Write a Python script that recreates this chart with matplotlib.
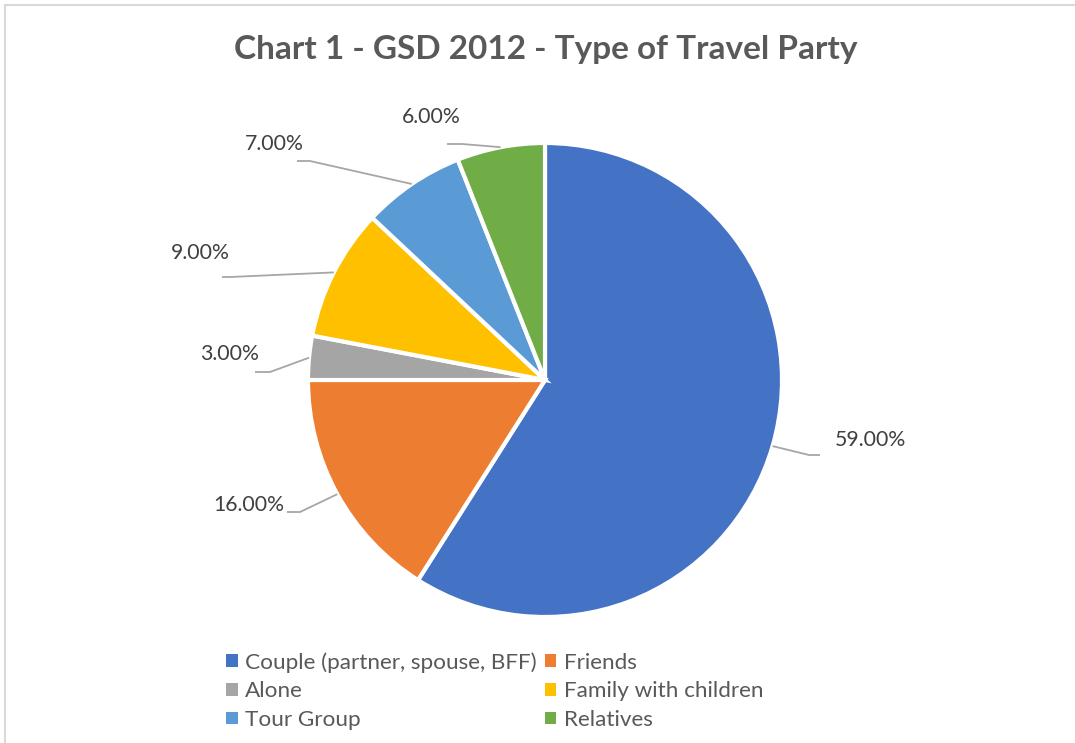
import numpy as np
import matplotlib.pyplot as plt
from matplotlib.patches import Patch

categories = ["Couple (partner, spouse, BFF)", "Friends", "Alone",
              "Family with children", "Tour Group", "Relatives"]
shares = [59.0, 16.0, 3.0, 9.0, 7.0, 6.0]
colors = ["#4472C4", "#ED7D31", "#A5A5A5", "#FFC000", "#5B9BD5", "#70AD47"]

W, H = 1075, 743
fig = plt.figure(figsize=(W / 100, H / 100), dpi=100)
ax = fig.add_axes([0, 0, 1, 1])

font = "Lato"
cx, cy, r = 545, H - 380, 237

wedges, _ = ax.pie(shares, colors=colors, startangle=90, counterclock=False,
                   center=(cx, cy), radius=r, frame=True,
                   wedgeprops=dict(edgecolor="white", linewidth=3))
ax.set_xlim(0, W)
ax.set_ylim(0, H)
ax.set_axis_off()

# label boxes (pixel coords, y from top): elbow x, elbow y, end x, text x, text y, align
label_pos = [
    (809, 455, 820, 835, 440, "left"),
    (300, 512, 287, 284, 505, "right"),
    (270, 372, 255, 259, 354, "right"),
    (230, 277, 222, 230, 253, "right"),
    (310, 161, 297, 304, 144, "right"),
    (462, 144, 447, 461, 117, "right"),
]

for w, val, (ex, ey, tx_end, tx, ty, ha) in zip(wedges, shares, label_pos):
    mid = np.deg2rad((w.theta1 + w.theta2) / 2)
    sx = cx + r * np.cos(mid)
    sy = cy + r * np.sin(mid)
    ax.plot([sx, ex, tx_end], [sy, H - ey, H - ey], color="#A6A6A6",
            lw=1.3, solid_capstyle="butt")
    ax.text(tx, H - ty, f"{val:.2f}%", ha=ha, va="center", fontsize=15.3,
            color="#404040", family=font)

ax.text(546, H - 49, "Chart 1 - GSD 2012 - Type of Travel Party",
        ha="center", va="center", fontsize=24, fontweight="bold",
        color="#595959", family=font)

# legend fills column first, so reorder to get row-wise layout
order = [0, 2, 4, 1, 3, 5]
handles = [Patch(facecolor=colors[i], edgecolor="none") for i in order]
labels = [categories[i] for i in order]
leg = ax.legend(handles, labels, ncol=2, loc="upper left",
                bbox_to_anchor=(215 / W, 1 - 641 / H), frameon=False,
                prop=dict(family=font, size=16.2), handlelength=0.5,
                handleheight=0.5, handletextpad=0.35, columnspacing=0.35,
                labelspacing=0.38, borderpad=0, labelcolor="#595959")

# light frame (only top and left visible in the crop)
ax.plot([4.5, W], [H - 4.5, H - 4.5], color="#D9D9D9", lw=1.5)
ax.plot([4.5, 4.5], [0, H - 4.5], color="#D9D9D9", lw=1.5)

fig.savefig("out.png", dpi=100, facecolor="white")
